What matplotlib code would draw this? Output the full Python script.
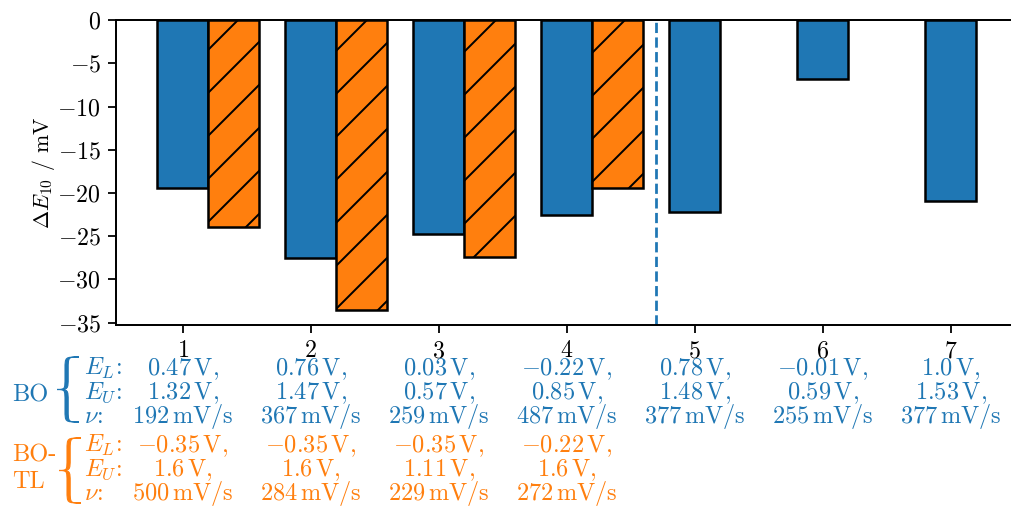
import matplotlib
matplotlib.use("Agg")
import matplotlib.pyplot as plt
from matplotlib.path import Path
from matplotlib.patches import PathPatch
from matplotlib.ticker import MultipleLocator
from matplotlib.transforms import Affine2D, blended_transform_factory

plt.rcParams["font.family"] = "serif"
plt.rcParams["font.serif"] = ["cmr10"]
plt.rcParams["mathtext.fontset"] = "cm"
plt.rcParams["axes.formatter.use_mathtext"] = True
plt.rcParams["hatch.linewidth"] = 0.55

# measured potential shift per run
runs = [1, 2, 3, 4, 5, 6, 7]
bo_de = [-19.4, -27.5, -24.7, -22.6, -22.2, -6.8, -20.9]
tl_runs = [1, 2, 3, 4]
tl_de = [-23.9, -33.6, -27.4, -19.45]

# scan settings found by each optimiser
bo_el = [0.47, 0.76, 0.03, -0.22, 0.78, -0.01, 1.0]
bo_eu = [1.32, 1.47, 0.57, 0.85, 1.48, 0.59, 1.53]
bo_nu = [192, 367, 259, 487, 377, 255, 377]
tl_el = [-0.35, -0.35, -0.35, -0.22]
tl_eu = [1.6, 1.6, 1.11, 1.6]
tl_nu = [500, 284, 229, 272]

W, H, DPI = 1011, 506, 258
fig = plt.figure(figsize=(W / DPI, H / DPI), dpi=DPI)
ax = fig.add_axes([116 / W, 181 / H, 0.8915, 304.9 / H])

width = 0.4
ax.bar(runs, bo_de, width, color="C0", edgecolor="black", linewidth=0.7)
ax.bar([r + width for r in tl_runs], tl_de, width, color="C1",
       edgecolor="black", linewidth=0.7, hatch="//")
ax.axvline(4.7, color="C0", linestyle="--", linewidth=0.77)

ax.set_xticks(runs)
ax.yaxis.set_major_locator(MultipleLocator(5))
ax.set_ylabel(r"$\Delta E_{10}$ / mV", fontsize=6.1, labelpad=0)
ax.tick_params(labelsize=6.7, length=2.2, width=0.5, pad=2)
for sp in ax.spines.values():
    sp.set_linewidth(0.55)

# settings table under the x axis
tr = blended_transform_factory(ax.transData, fig.transFigure)
px = Affine2D().scale(1 / W, -1 / H).translate(0, 1) + fig.transFigure
fs = 6.8


def settings_block(xs, el, eu, nu, base, color):
    rows = [r"$E_L$:", r"$E_U$:", r"$\nu$:"]
    for k, lab in enumerate(rows):
        fig.text(84 / W, 1 - (base + 24 * k) / H, lab, color=color,
                 fontsize=fs, ha="left", va="baseline")
    for x, a, b, n in zip(xs, el, eu, nu):
        vals = [rf"${a}\,\mathrm{{V}},$", rf"${b}\,\mathrm{{V}},$",
                rf"${n}\,\mathrm{{mV/s}}$"]
        for k, s in enumerate(vals):
            ax.text(x, 1 - (base + 24 * k) / H, s, transform=tr,
                    color=color, fontsize=fs, ha="center", va="baseline")


def brace(xl, xc, xr, yt, yb, color, t=3.2, d=12):
    # filled curly brace, thick stems and thin ends
    ym = (yt + yb) / 2
    xi = xc + t
    verts = [(xr, yt), (xc, yt), (xc, yt), (xc, yt + d),
             (xc, ym - d), (xc, ym), (xc, ym), (xl, ym),
             (xc, ym), (xc, ym), (xc, ym + d),
             (xc, yb - d), (xc, yb), (xc, yb), (xr, yb),
             (xi, yb), (xi, yb), (xi, yb - d),
             (xi, ym + d), (xi, ym), (xi, ym), (xl, ym),
             (xi, ym), (xi, ym), (xi, ym - d),
             (xi, yt + d), (xi, yt), (xi, yt), (xr, yt),
             (xr, yt)]
    codes = ([Path.MOVETO] + [Path.CURVE4] * 3 + [Path.LINETO]
             + [Path.CURVE4] * 6 + [Path.LINETO] + [Path.CURVE4] * 3
             + [Path.CURVE4] * 3 + [Path.LINETO] + [Path.CURVE4] * 6
             + [Path.LINETO] + [Path.CURVE4] * 3 + [Path.CLOSEPOLY])
    fig.patches.append(PathPatch(Path(verts, codes), transform=px,
                                 facecolor=color, edgecolor=color,
                                 linewidth=0.3))


settings_block(runs, bo_el, bo_eu, bo_nu, 375, "C0")
settings_block(tl_runs, tl_el, tl_eu, tl_nu, 452, "C1")
brace(57, 65, 79, 357, 422, "C0")
brace(59, 67, 81, 438, 503, "C1")
fig.text(12 / W, 1 - 402 / H, "BO", color="C0", fontsize=fs, va="baseline")
fig.text(12 / W, 1 - 462 / H, "BO-", color="C1", fontsize=fs, va="baseline")
fig.text(12 / W, 1 - 488 / H, "TL", color="C1", fontsize=fs, va="baseline")

fig.savefig("out.png", dpi=DPI)
